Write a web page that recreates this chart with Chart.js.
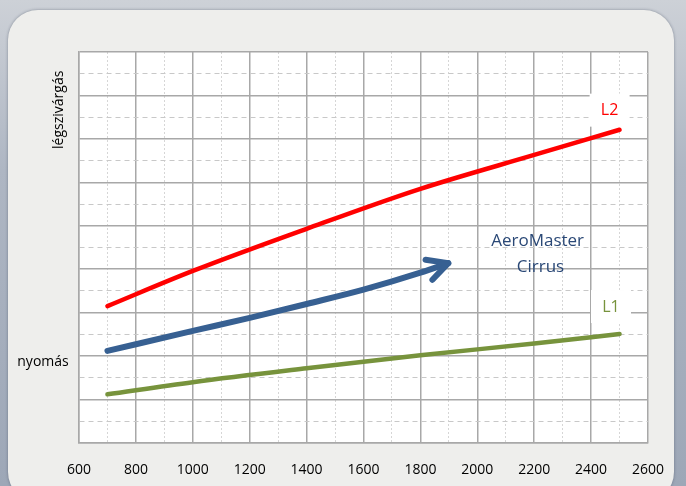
<!DOCTYPE html>
<html>
<head>
<meta charset="utf-8">
<script src="https://cdn.jsdelivr.net/npm/chart.js@4.4.1/dist/chart.umd.min.js"></script>
<style>
  html, body { margin: 0; padding: 0; }
  body {
    width: 686px; height: 486px; overflow: hidden; position: relative;
    background: linear-gradient(180deg, #cdd1d7 0%, #aeb6c3 35%, #9da7b7 100%);
  }
  #panel {
    position: absolute; left: 8px; top: 10px; width: 666px; height: 492px;
    background: #eeeeec; border-radius: 30px;
    box-shadow: 0 0 3px rgba(40, 50, 70, 0.45);
  }
  #wrap { position: absolute; left: 0; top: 0; width: 686px; height: 486px; }
</style>
</head>
<body>
<div id="panel"></div>
<div id="wrap"><canvas id="chart" width="686" height="486"></canvas></div>
<script>
// data
const xPoints = [700, 1000, 1400, 1800, 2200, 2500];
const l2Values = [3.15, 3.96, 4.93, 5.85, 6.63, 7.21];
const l1Values = [1.12, 1.40, 1.72, 2.02, 2.29, 2.51];
const cirrusX = [700, 1000, 1200, 1400, 1600, 1800, 1898];
const cirrusValues = [2.12, 2.58, 2.88, 3.20, 3.53, 3.92, 4.14];
const xTickLabels = [600, 800, 1000, 1200, 1400, 1600, 1800, 2000, 2200, 2400, 2600];

const FONT = "'Open Sans', sans-serif";

const toPoints = (xs, ys) => xs.map((x, i) => ({ x: x, y: ys[i] }));

// text placed on the plot (data coordinates)
const notes = [
    { text: 'L2', x: 2465, y: 7.65, color: '#ff0000', box: true },
    { text: 'L1', x: 2470, y: 3.13, color: '#77933c', box: true },
    { text: 'AeroMaster', x: 2212, y: 4.64, color: '#2a4876', size: 17 },
    { text: 'Cirrus', x: 2222, y: 4.05, color: '#2a4876', size: 17 },
];

const plotBackground = {
    id: 'plotBackground',
    beforeDraw(chart) {
        const { ctx, chartArea: a } = chart;
        ctx.save();
        ctx.fillStyle = '#ffffff';
        ctx.fillRect(a.left, a.top, a.right - a.left, a.bottom - a.top);
        ctx.restore();
    }
};

const labelBoxes = {
    id: 'labelBoxes',
    beforeDatasetsDraw(chart) {
        const { ctx, scales: { x, y } } = chart;
        ctx.save();
        ctx.fillStyle = '#ffffff';
        notes.filter(n => n.box).forEach(n => {
            const px = x.getPixelForValue(n.x), py = y.getPixelForValue(n.y);
            ctx.fillRect(px - 20, py - 17, 40, 33);
        });
        ctx.restore();
    }
};

const extras = {
    id: 'extras',
    afterDatasetsDraw(chart) {
        const { ctx, chartArea: a, scales: { x, y } } = chart;
        ctx.save();

        // arrow head on the Cirrus line
        const pts = chart.getDatasetMeta(1).data;
        const tip = pts[pts.length - 1], prev = pts[pts.length - 2];
        const ang = Math.atan2(tip.y - prev.y, tip.x - prev.x);
        ctx.strokeStyle = '#376092';
        ctx.lineWidth = 6;
        ctx.lineCap = 'round';
        ctx.lineJoin = 'round';
        ctx.beginPath();
        ctx.moveTo(tip.x + 23 * Math.cos(ang + Math.PI - 0.48), tip.y + 23 * Math.sin(ang + Math.PI - 0.48));
        ctx.lineTo(tip.x, tip.y);
        ctx.lineTo(tip.x + 23 * Math.cos(ang + Math.PI + 0.48), tip.y + 23 * Math.sin(ang + Math.PI + 0.48));
        ctx.stroke();

        ctx.textAlign = 'center';
        ctx.textBaseline = 'middle';
        notes.forEach(n => {
            ctx.fillStyle = n.color;
            ctx.font = (n.size || 16) + 'px ' + FONT;
            ctx.fillText(n.text, x.getPixelForValue(n.x), y.getPixelForValue(n.y));
        });

        // axis captions
        ctx.fillStyle = '#000000';
        ctx.font = '14px ' + FONT;
        ctx.fillText('nyomás', a.left - 36, y.getPixelForValue(1.86));
        ctx.translate(a.left - 20, y.getPixelForValue(7.67));
        ctx.rotate(-Math.PI / 2);
        ctx.fillText('légszivárgás', 0, 0);
        ctx.restore();
    }
};

const ctx = document.getElementById('chart').getContext('2d');
new Chart(ctx, {
    type: 'line',
    data: {
        datasets: [
            {
                label: 'L2',
                data: toPoints(xPoints, l2Values),
                borderColor: '#ff0000',
                borderWidth: 4.5,
                cubicInterpolationMode: 'monotone',
            },
            {
                label: 'AeroMaster Cirrus',
                data: toPoints(cirrusX, cirrusValues),
                borderColor: '#376092',
                borderWidth: 6,
                cubicInterpolationMode: 'monotone',
            },
            {
                label: 'L1',
                data: toPoints(xPoints, l1Values),
                borderColor: '#77933c',
                borderWidth: 4.5,
                cubicInterpolationMode: 'monotone',
            },
        ],
    },
    options: {
        responsive: false,
        animation: false,
        devicePixelRatio: 1,
        layout: { padding: { left: 79, right: 38, top: 52, bottom: 0 } },
        elements: {
            point: { radius: 0 },
            line: { borderCapStyle: 'round', fill: false },
        },
        plugins: {
            legend: { display: false },
            tooltip: { enabled: false },
        },
        scales: {
            x: {
                type: 'linear',
                min: 600,
                max: 2600,
                afterFit: (scale) => { scale.height = 43; },
                ticks: {
                    stepSize: 100,
                    autoSkip: false,
                    maxRotation: 0,
                    padding: 19,
                    color: '#000000',
                    font: { family: FONT, size: 14 },
                    callback: (v) => xTickLabels.includes(v) ? String(v) : '',
                },
                grid: {
                    drawTicks: false,
                    color: (c) => xTickLabels.includes(c.tick.value) ? '#a8a8a8' : '#d6d6d6',
                    lineWidth: (c) => xTickLabels.includes(c.tick.value) ? 1.5 : 1,
                },
                border: {
                    color: '#a8a8a8',
                    width: 1.5,
                    dash: (c) => (c.tick && !xTickLabels.includes(c.tick.value)) ? [2, 2] : [],
                },
            },
            y: {
                min: 0,
                max: 9,
                ticks: { stepSize: 0.5, display: false },
                grid: {
                    drawTicks: false,
                    color: (c) => Number.isInteger(c.tick.value) ? '#a8a8a8' : '#c8c8c8',
                    lineWidth: (c) => Number.isInteger(c.tick.value) ? 1.5 : 1,
                },
                border: {
                    color: '#a8a8a8',
                    width: 1.5,
                    dash: (c) => (c.tick && !Number.isInteger(c.tick.value)) ? [5, 4] : [],
                },
            },
        },
    },
    plugins: [plotBackground, labelBoxes, extras],
});
</script>
</body>
</html>
